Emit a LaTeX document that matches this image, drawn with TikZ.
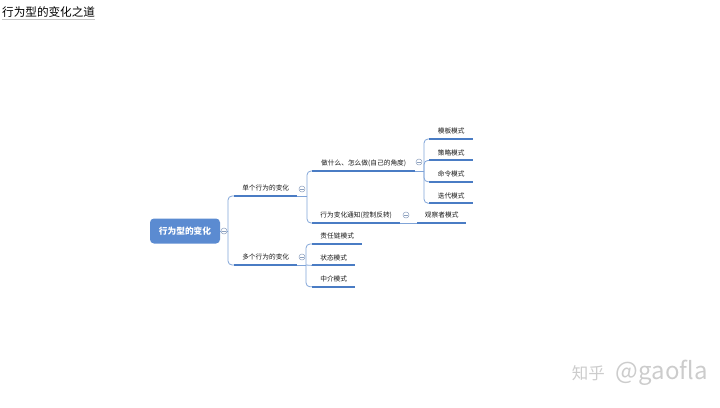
\documentclass[tikz,border=0pt]{standalone}
\usepackage{fontspec}
\setmainfont{Noto Sans CJK SC}
\usetikzlibrary{positioning}
\definecolor{mapblue}{RGB}{91,139,209}
\definecolor{lineblue}{RGB}{74,124,196}
\definecolor{linkblue}{RGB}{128,164,216}
\definecolor{foldgray}{RGB}{140,160,190}
\tikzstyle{rootbox} = [rectangle, rounded corners=4pt, minimum width=70pt, minimum height=25pt, inner sep=0pt, fill=mapblue, text=white, font=\fontsize{8.7}{10}\selectfont\bfseries]
\tikzstyle{topic} = [rectangle, anchor=south west, inner xsep=0pt, inner ysep=4pt, text height=6pt, text depth=1pt, text=black!90, font=\fontsize{6.7}{8}\selectfont]
\tikzstyle{fold} = [circle, draw=foldgray, fill=white, line width=0.5pt, minimum size=6pt, inner sep=0pt, path picture={\draw[foldgray, line width=0.5pt] ([xshift=-1.6pt]path picture bounding box.center) -- ([xshift=1.6pt]path picture bounding box.center);}]
\tikzstyle{link} = [linkblue, line width=0.8pt, rounded corners=4pt]
\tikzstyle{uline} = [lineblue, line width=2pt]

\begin{document}
\begin{tikzpicture}[x=1pt, y=-1pt]
\useasboundingbox (0,0) rectangle (720,407);

% Nodes
\node (title) [anchor=west, inner sep=0pt, font=\fontsize{11.6}{13}\selectfont] at (2,12) {行为型的变化之道};
\node (root) [rootbox] at (185,231) {行为型的变化};
\node (s1) [topic, minimum width=63pt] at (234,196) {单个行为的变化};
\node (s2) [topic, minimum width=63pt] at (234,265) {多个行为的变化};
\node (d1) [topic, minimum width=103pt] at (312,171) {做什么、怎么做(自己的角度)};
\node (d2) [topic, minimum width=88pt] at (312,223) {行为变化通知(控制反转)};
\node (m1) [topic, minimum width=44pt] at (429,139) {模板模式};
\node (m2) [topic, minimum width=44pt, below=6pt of m1] {策略模式};
\node (m3) [topic, minimum width=44pt, below=6pt of m2] {命令模式};
\node (m4) [topic, minimum width=44pt, below=6pt of m3] {迭代模式};
\node (o1) [topic, minimum width=49pt] at (417,223) {观察者模式};
\node (r1) [topic, minimum width=50pt] at (312,244) {责任链模式};
\node (r2) [topic, minimum width=43pt, below=6pt of r1.south west, anchor=north west] {状态模式};
\node (r3) [topic, minimum width=43pt, below=6pt of r2.south west, anchor=north west] {中介模式};
\node (mark) [anchor=east, inner sep=0pt, text=gray!40, font=\fontsize{16.5}{18}\selectfont] at (708,373) {知乎\hspace{11pt}{\fontsize{24}{26}\selectfont @gaofla}};

\coordinate (j0) at (228,231);
\coordinate (j1) at (307,196);
\coordinate (j2) at (306,265);
\coordinate (j3) at (424,171);

% Arrows
\draw [link] (root.east) -- (j0);
\draw [link] (j0) |- (s1.south west);
\draw [link] (j0) |- (s2.south west);
\draw [link] (s1.south east) -- (j1);
\draw [link] (j1) |- (d1.south west);
\draw [link] (j1) |- (d2.south west);
\draw [link] (s2.south east) -- (j2);
\draw [link] (j2) |- (r1.south west);
\draw [link] (j2) -- (r2.south west);
\draw [link] (j2) |- (r3.south west);
\draw [link] (d1.south east) -- (j3);
\foreach \n in {m1,m2,m3,m4}
  \draw [link] (j3) |- (\n.south west);
\draw [link] (d2.south east) -- (o1.south west);

% Underlines
\foreach \n in {s1,s2,d1,d2,m1,m2,m3,m4,o1,r1,r2,r3}
  \draw [uline] (\n.south west) -- (\n.south east);
\draw [gray!45, line width=1pt] ([yshift=-2pt]title.south west) -- ([yshift=-2pt]title.south east);

% Folds
\node (f0) [fold] at (224,231) {};
\node (f1) [fold] at (302,189) {};
\node (f2) [fold] at (302,257) {};
\node (f3) [fold] at (419,162) {};
\node (f4) [fold] at (406,215) {};

\end{tikzpicture}
\end{document}
